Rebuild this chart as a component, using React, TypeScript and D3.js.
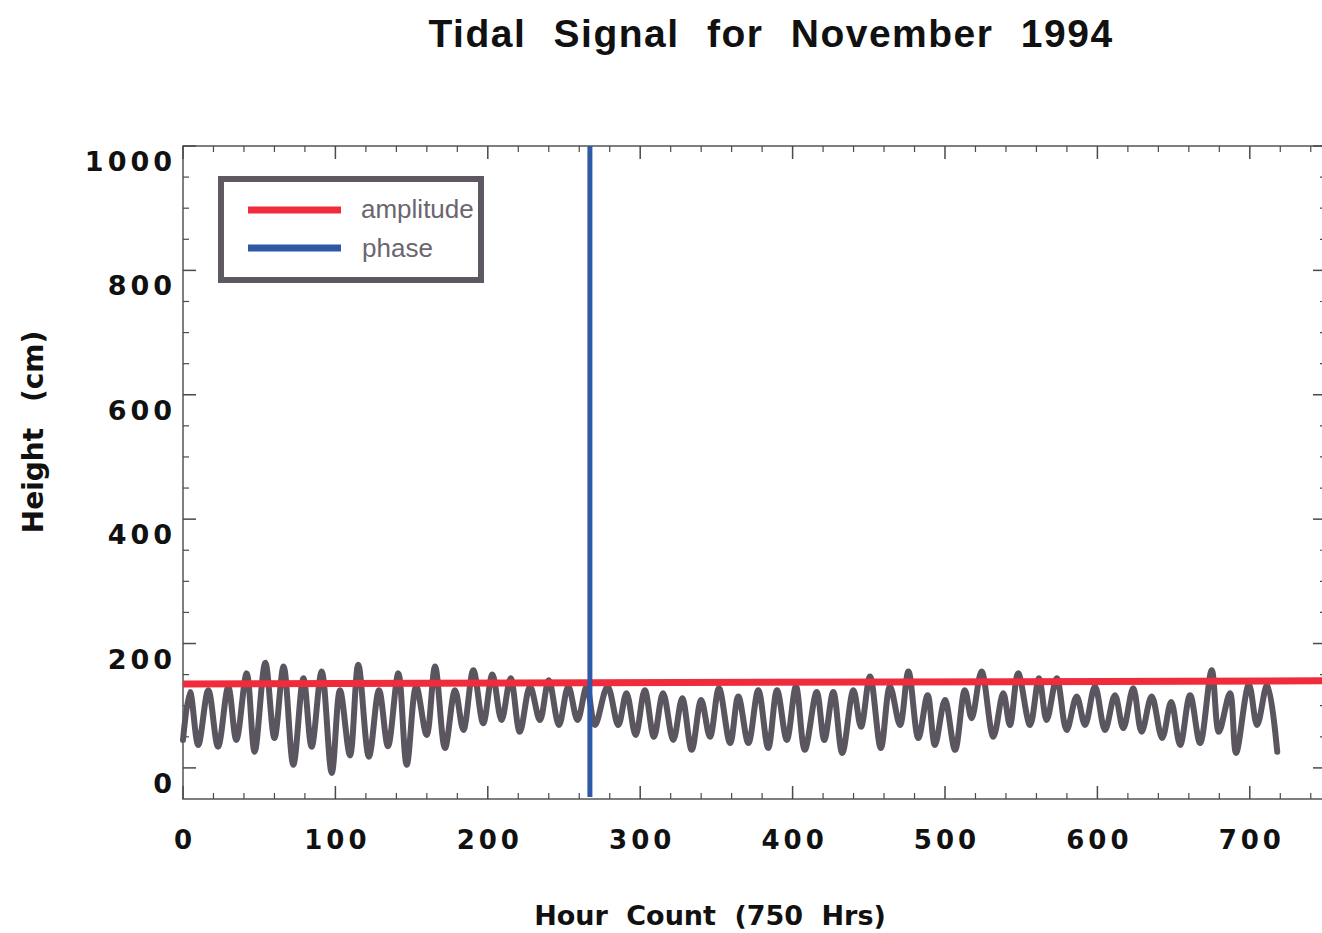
import React from 'react';
import * as d3 from 'd3';

// tide extrema (hour, height in cm)
const signalHours = [
  0, 4.6, 10, 16.6, 23, 29.7, 35, 41.8, 47, 54, 60, 66, 72.4, 79, 84.4, 91, 97.6, 103, 109.6, 115,
  122, 128.6, 134.5, 141.3, 146.8, 153, 159.9, 165.4, 171.9, 178.5, 184, 190.5, 197, 203, 209, 215,
  221, 227.7, 234.2, 240, 246.7, 252.8, 258.9, 264.9, 270.3, 278.6, 285.6, 291, 297, 303, 309, 315,
  321.7, 327.6, 333.8, 340, 345.8, 351.7, 359, 364.4, 371, 377.5, 384, 389.8, 396.2, 402.2, 408,
  415.8, 420.8, 426.7, 432.6, 439.9, 444.9, 450.8, 457.9, 463.9, 470.5, 476, 482.5, 488.6, 493.4,
  500, 506.6, 513, 517.5, 524, 531.7, 538.2, 542.6, 548, 555.8, 561.7, 566.7, 573.3, 579.8, 586.4,
  591.9, 598.4, 605, 611.5, 617, 623.5, 629, 635.6, 642.5, 648.4, 654.3, 660.8, 667.4, 675, 679.7,
  687, 691, 699.4, 704.8, 711.4, 718,
];
const signalValues = [
  45, 122, 37, 125, 34, 130, 45, 152, 26, 169, 48, 163, 5, 144, 34, 155, -8, 125, 20, 166,
  18, 125, 35, 152, 5, 131, 53, 163, 32, 125, 61, 157, 72, 150, 77, 144,
  58, 131, 77, 141, 69, 131, 77, 131, 69, 131, 69, 120, 53, 125, 50, 120,
  45, 112, 29, 109, 50, 128, 40, 115, 40, 125, 32, 125, 45, 131, 29,
  122, 45, 122, 24, 125, 66, 147, 32, 131, 69, 155, 48, 117, 37,
  109, 29, 125, 80, 155, 50, 120, 69, 152, 69, 144, 77, 144, 61, 115,
  69, 131, 61, 117, 64, 128, 58, 115, 48, 106, 37, 117, 40, 157, 58,
  120, 24, 134, 69, 134, 26,
];

const amplitudeHours = [0, 750];
const amplitudeValues = [135, 140];
const phaseHour = 267;

const xMajor = [0, 100, 200, 300, 400, 500, 600, 700];
const yMajor = [0, 200, 400, 600, 800, 1000];

const W = 1322;
const H = 933;
const left = 183;
const right = 1326;
const top = 146;
const bottom = 799;

export default function App() {
  const x = d3.scaleLinear().domain([0, 750]).range([left, right]);
  const y = d3.scaleLinear().domain([-50, 1000]).range([bottom, top]);

  const xMinor = d3.range(20, 750, 20).filter((v) => v % 100 !== 0);
  const yMinor = d3.range(50, 1000, 50).filter((v) => v % 200 !== 0);

  const pts = signalHours.map((h, i) => [h, signalValues[i]] as [number, number]);
  const line = d3
    .line<[number, number]>()
    .x((d) => x(d[0]))
    .y((d) => y(d[1]))
    .curve(d3.curveCatmullRom.alpha(0.5));

  const amp = amplitudeHours.map((h, i) => [h, amplitudeValues[i]] as [number, number]);
  const ampLine = d3
    .line<[number, number]>()
    .x((d) => x(d[0]))
    .y((d) => y(d[1]));

  const tickColor = '#4a4a4a';
  const labelFont = "'DejaVu Sans', sans-serif";

  return (
    <svg
      width={W}
      height={H}
      style={{ position: 'absolute', left: 0, top: 0, background: '#fff' }}
    >
      {/* title */}
      <text
        x={771}
        y={47}
        textAnchor="middle"
        fontFamily="'Liberation Sans', Arial, sans-serif"
        fontWeight="bold"
        fontSize={39}
        wordSpacing={15}
        letterSpacing={1.5}
        fill="#111"
      >
        Tidal Signal for November 1994
      </text>

      {/* frame */}
      <rect
        x={left}
        y={top}
        width={right - left}
        height={bottom - top}
        fill="none"
        stroke="#555"
        strokeWidth={1.5}
      />

      {/* x ticks, bottom and top */}
      {xMajor.map((v) => (
        <g key={'xM' + v}>
          <line x1={x(v)} x2={x(v)} y1={bottom} y2={bottom - 13} stroke={tickColor} strokeWidth={1.5} />
          <line x1={x(v)} x2={x(v)} y1={top} y2={top + 13} stroke={tickColor} strokeWidth={1.5} />
        </g>
      ))}
      {xMinor.map((v) => (
        <g key={'xm' + v}>
          <line x1={x(v)} x2={x(v)} y1={bottom} y2={bottom - 6} stroke={tickColor} strokeWidth={1.2} />
          <line x1={x(v)} x2={x(v)} y1={top} y2={top + 6} stroke={tickColor} strokeWidth={1.2} />
        </g>
      ))}

      {/* y ticks, left and right */}
      {yMajor.map((v) => (
        <g key={'yM' + v}>
          <line x1={left} x2={left + 13} y1={y(v)} y2={y(v)} stroke={tickColor} strokeWidth={1.5} />
          <line x1={right} x2={right - 13} y1={y(v)} y2={y(v)} stroke={tickColor} strokeWidth={1.5} />
        </g>
      ))}
      {yMinor.map((v) => (
        <g key={'ym' + v}>
          <line x1={left} x2={left + 6} y1={y(v)} y2={y(v)} stroke={tickColor} strokeWidth={1.2} />
          <line x1={right} x2={right - 6} y1={y(v)} y2={y(v)} stroke={tickColor} strokeWidth={1.2} />
        </g>
      ))}

      {/* tick labels */}
      {xMajor.map((v) => (
        <text
          key={'xl' + v}
          x={x(v) + 2}
          y={849}
          textAnchor="middle"
          fontFamily={labelFont}
          fontWeight="bold"
          fontSize={26}
          letterSpacing={4}
          fill="#111"
        >
          {v}
        </text>
      ))}
      {yMajor.map((v) => (
        <text
          key={'yl' + v}
          x={176}
          y={y(v) + 25}
          textAnchor="end"
          fontFamily={labelFont}
          fontWeight="bold"
          fontSize={27}
          letterSpacing={4}
          fill="#111"
        >
          {v}
        </text>
      ))}

      {/* axis titles */}
      <text
        x={710}
        y={925}
        textAnchor="middle"
        fontFamily={labelFont}
        fontWeight="bold"
        fontSize={27}
        wordSpacing={9}
        fill="#111"
      >
        Hour Count (750 Hrs)
      </text>
      <text
        transform="translate(43,432) rotate(-90)"
        textAnchor="middle"
        fontFamily={labelFont}
        fontWeight="bold"
        fontSize={28}
        wordSpacing={16}
        fill="#111"
      >
        Height (cm)
      </text>

      {/* signal */}
      <path
        d={line(pts) || ''}
        fill="none"
        stroke="#5b5560"
        strokeWidth={6}
        strokeLinejoin="round"
        strokeLinecap="round"
      />
      {/* amplitude */}
      <path d={ampLine(amp) || ''} fill="none" stroke="#ef2b3c" strokeWidth={7} />
      {/* phase */}
      <line
        x1={x(phaseHour)}
        x2={x(phaseHour)}
        y1={top}
        y2={bottom - 2}
        stroke="#2f59a6"
        strokeWidth={5}
      />

      {/* legend */}
      <rect x={221} y={179} width={260} height={101} fill="#fff" stroke="#5e5862" strokeWidth={6} />
      <line x1={248} x2={341} y1={210} y2={210} stroke="#ef2b3c" strokeWidth={7} />
      <line x1={248} x2={341} y1={248} y2={248} stroke="#2f59a6" strokeWidth={7} />
      <text x={361} y={218} fontFamily="'Liberation Sans', Arial, sans-serif" fontSize={26} fill="#6b6570">
        amplitude
      </text>
      <text x={362} y={257} fontFamily="'Liberation Sans', Arial, sans-serif" fontSize={26} fill="#6b6570">
        phase
      </text>
    </svg>
  );
}
